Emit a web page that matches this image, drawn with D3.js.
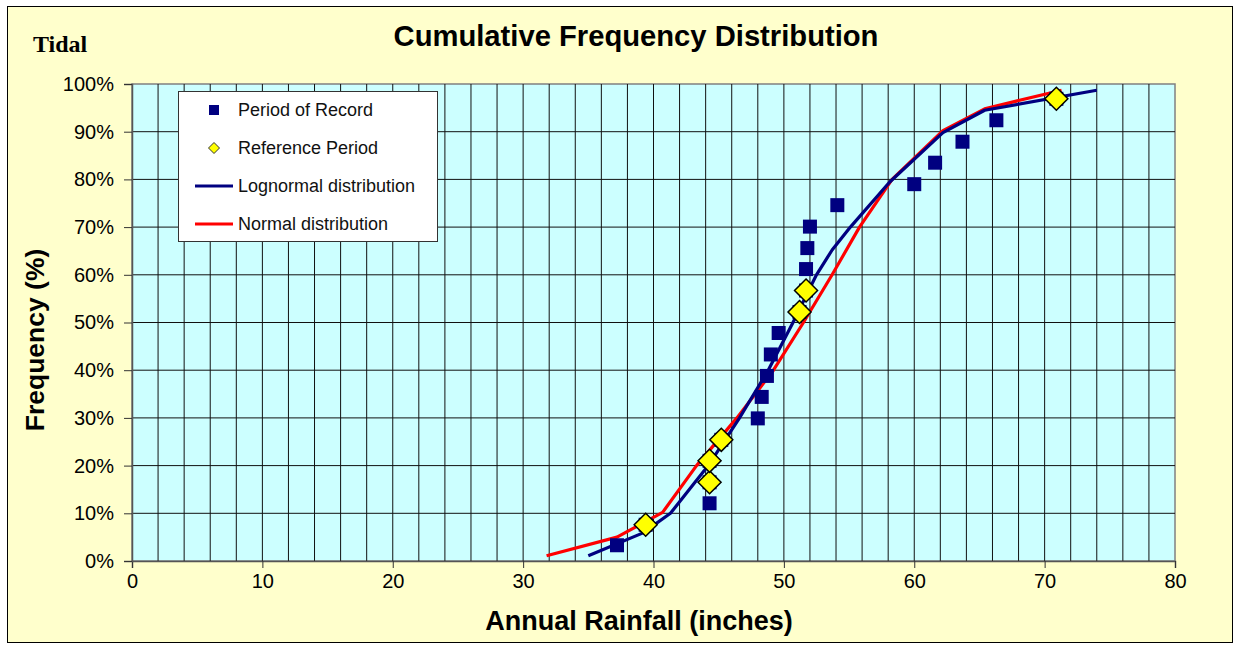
<!DOCTYPE html>
<html><head><meta charset="utf-8">
<script src="https://cdn.jsdelivr.net/npm/d3@7"></script>
<style>body{margin:0;background:#fff}svg{display:block}</style>
</head><body>
<svg id="c" width="1239" height="649"></svg>
<script>
// ---- data ----
const xTicks = [0, 10, 20, 30, 40, 50, 60, 70, 80];
const yTicks = [0, 10, 20, 30, 40, 50, 60, 70, 80, 90, 100];
const recordX = [37.2, 39.4, 44.3, 44.3, 44.3, 45.2, 48.0, 48.3, 48.7, 49.0, 49.6, 51.2, 51.7, 51.7, 51.8, 52.0, 54.1, 60.0, 61.6, 63.7, 66.3, 70.9];
const recordY = [3.3, 7.6, 12.1, 16.5, 21.0, 25.4, 29.9, 34.4, 38.8, 43.3, 47.8, 52.2, 56.7, 61.2, 65.6, 70.1, 74.6, 79.0, 83.5, 87.9, 92.4, 96.9];
const refX = [39.4, 44.3, 44.3, 45.2, 51.2, 51.7, 70.9];
const refY = [7.6, 16.5, 21.0, 25.4, 52.2, 56.7, 96.9];
const lognormX = [35.0, 39.2, 41.3, 44.2, 46.6, 48.8, 50.7, 51.6, 52.5, 53.7, 55.1, 58.1, 62.2, 65.4, 74.0];
const lognormY = [1.1, 5.9, 10.0, 20.0, 30.0, 40.0, 50.0, 55.0, 60.0, 65.2, 70.0, 79.4, 89.8, 94.5, 98.7];
const normX = [31.8, 37.2, 40.7, 43.3, 46.4, 49.2, 51.5, 53.7, 55.8, 58.3, 62.2, 65.4, 71.3];
const normY = [1.1, 5.0, 10.2, 20.0, 30.0, 40.0, 50.0, 60.0, 70.0, 80.0, 90.2, 94.8, 98.7];
const legendLabels = ["Period of Record", "Reference Period", "Lognormal distribution", "Normal distribution"];

const svg = d3.select("#c");
const L = 132, R = 1175, T = 84, B = 561;
const x = d3.scaleLinear().domain([0, 80]).range([L, R]);
const y = d3.scaleLinear().domain([0, 100]).range([B, T]);
const SANS = "Liberation Sans, Arial, sans-serif";

// outer frame
svg.append("rect").attr("x", 7.5).attr("y", 6.5).attr("width", 1225).attr("height", 636)
  .attr("fill", "#FFFFCC").attr("stroke", "#000").attr("stroke-width", 1);

// plot area
svg.append("rect").attr("x", L).attr("y", T).attr("width", R - L).attr("height", B - T)
  .attr("fill", "#CCFFFF").attr("stroke", "#808080").attr("stroke-width", 1.5);

// grid
const g = svg.append("g");
g.selectAll("line.v").data(d3.range(2, 80, 2)).join("line")
  .attr("x1", d => x(d)).attr("x2", d => x(d)).attr("y1", T).attr("y2", B)
  .attr("stroke", "#111").attr("stroke-width", 1);
g.selectAll("line.h").data(yTicks.slice(1, -1)).join("line")
  .attr("x1", L).attr("x2", R).attr("y1", d => y(d)).attr("y2", d => y(d))
  .attr("stroke", "#111").attr("stroke-width", 1);

// axes
const xAxis = d3.axisBottom(x).tickValues(xTicks).tickSize(7).tickPadding(6).tickFormat(d3.format("d"));
const yAxis = d3.axisLeft(y).tickValues(yTicks).tickSize(8).tickPadding(10).tickFormat(d => d + "%");
const gx = svg.append("g").attr("transform", `translate(0,${B})`).call(xAxis);
const gy = svg.append("g").attr("transform", `translate(${L},0)`).call(yAxis);
[gx, gy].forEach(a => {
  a.select(".domain").attr("stroke", "#555").attr("stroke-width", 1.5);
  a.selectAll(".tick line").attr("stroke", "#333");
  a.selectAll("text").attr("font-family", SANS).attr("font-size", 20).attr("fill", "#000");
});

// lines
const line = d3.line().x(d => x(d[0])).y(d => y(d[1]));
svg.append("path").datum(d3.zip(normX, normY)).attr("d", line)
  .attr("fill", "none").attr("stroke", "#FF0000").attr("stroke-width", 3.2).attr("stroke-linejoin", "round");
svg.append("path").datum(d3.zip(lognormX, lognormY)).attr("d", line)
  .attr("fill", "none").attr("stroke", "#000080").attr("stroke-width", 3.2).attr("stroke-linejoin", "round");

// squares
const sq = 14;
svg.append("g").selectAll("rect").data(d3.zip(recordX, recordY)).join("rect")
  .attr("x", d => x(d[0]) - sq / 2).attr("y", d => y(d[1]) - sq / 2)
  .attr("width", sq).attr("height", sq).attr("fill", "#000080");

// diamonds
const dia = 11.5;
const diamond = (cx, cy, r) => `M${cx},${cy - r}L${cx + r},${cy}L${cx},${cy + r}L${cx - r},${cy}Z`;
svg.append("g").selectAll("path").data(d3.zip(refX, refY)).join("path")
  .attr("d", d => diamond(x(d[0]), y(d[1]), dia))
  .attr("fill", "#FFFF00").attr("stroke", "#000").attr("stroke-width", 1.5);

// legend
const lg = svg.append("g");
lg.append("rect").attr("x", 178.5).attr("y", 91.5).attr("width", 259).attr("height", 150)
  .attr("fill", "#fff").attr("stroke", "#333").attr("stroke-width", 1);
const ly = [110, 148, 186, 224];
lg.append("rect").attr("x", 209).attr("y", ly[0] - 5).attr("width", 10).attr("height", 10).attr("fill", "#000080");
lg.append("path").attr("d", diamond(214, ly[1], 5.5)).attr("fill", "#FFFF00").attr("stroke", "#333").attr("stroke-width", 1);
lg.append("line").attr("x1", 195).attr("x2", 233).attr("y1", ly[2]).attr("y2", ly[2]).attr("stroke", "#000080").attr("stroke-width", 3);
lg.append("line").attr("x1", 195).attr("x2", 233).attr("y1", ly[3]).attr("y2", ly[3]).attr("stroke", "#FF0000").attr("stroke-width", 3);
lg.selectAll("text").data(legendLabels).join("text")
  .attr("x", 238).attr("y", (d, i) => ly[i] + 6)
  .attr("font-family", SANS).attr("font-size", 18).attr("fill", "#111")
  .text(d => d);

// titles
svg.append("text").attr("x", 33).attr("y", 52).text("Tidal")
  .attr("font-family", "Liberation Serif, Times New Roman, serif").attr("font-weight", "bold").attr("font-size", 24);
svg.append("text").attr("x", 636).attr("y", 46).attr("text-anchor", "middle").text("Cumulative Frequency Distribution")
  .attr("font-family", SANS).attr("font-weight", "bold").attr("font-size", 29.2);
svg.append("text").attr("x", 639).attr("y", 630).attr("text-anchor", "middle").text("Annual Rainfall (inches)")
  .attr("font-family", SANS).attr("font-weight", "bold").attr("font-size", 27);
svg.append("text").attr("transform", "translate(44,340) rotate(-90)").attr("text-anchor", "middle").text("Frequency (%)")
  .attr("font-family", SANS).attr("font-weight", "bold").attr("font-size", 26.5);
</script>
</body></html>
